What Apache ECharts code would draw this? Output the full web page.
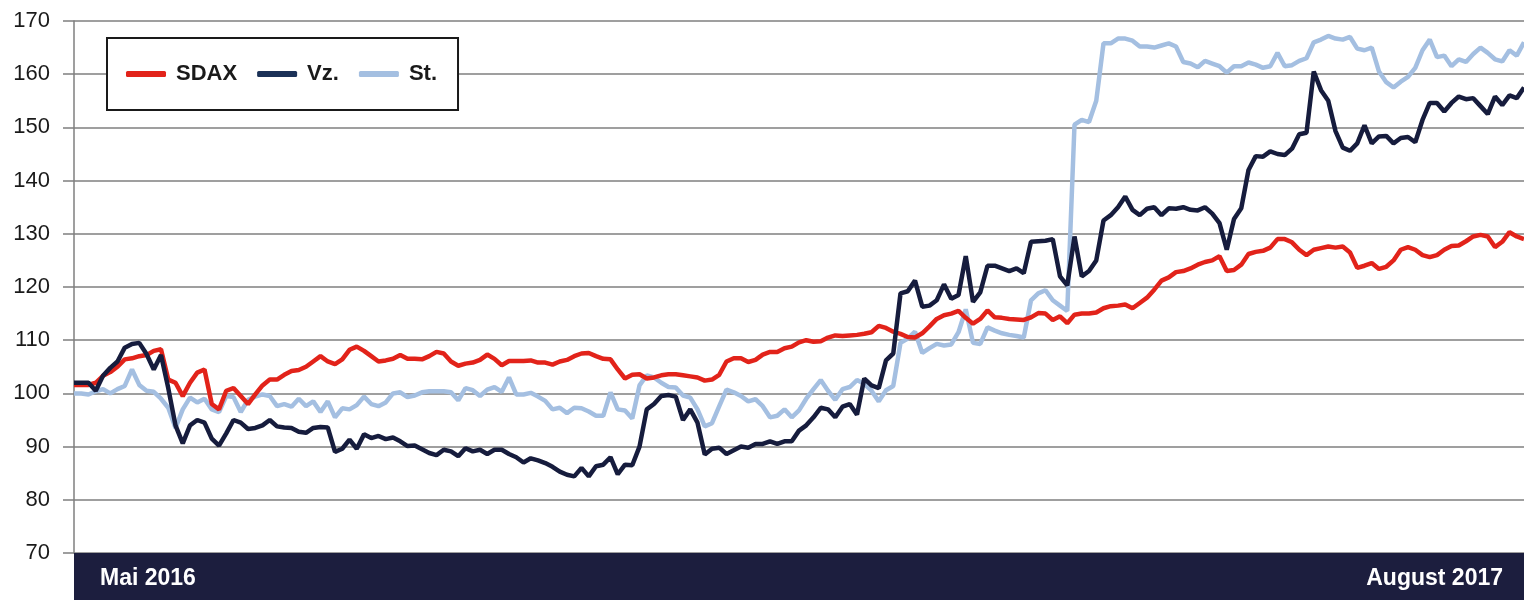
<!DOCTYPE html>
<html>
<head>
<meta charset="utf-8">
<script src="https://cdn.jsdelivr.net/npm/echarts@6/dist/echarts.min.js"></script>
<style>
html,body{margin:0;padding:0;background:#fff;}
#chart{width:1524px;height:600px;}
</style>
</head>
<body>
<div id="chart"></div>
<script>
var seriesNames = ['SDAX', 'Vz.', 'St.'];
var tickLabels = ['Mai 2016', 'August 2017'];
var yTicks = [70, 80, 90, 100, 110, 120, 130, 140, 150, 160, 170];

var sdax = [
101.6,101.6,101.6,102,103.3,104,105,106.4,106.6,107,
107.2,108,108.3,102.6,102,99.5,102,103.9,104.5,98,
97,100.5,101,99.5,98,99.8,101.5,102.6,102.6,103.5,
104.2,104.4,105,106,107,106,105.5,106.4,108.2,108.8,
108,107,106,106.2,106.5,107.2,106.5,106.5,106.4,107,
107.8,107.5,106,105.2,105.6,105.8,106.3,107.3,106.5,105.3,
106.1,106.1,106.1,106.2,105.8,105.8,105.4,106,106.3,107,
107.5,107.6,107,106.5,106.4,104.5,102.8,103.5,103.6,102.8,
103,103.4,103.6,103.6,103.4,103.2,103,102.4,102.6,103.5,
106,106.6,106.6,105.9,106.3,107.3,107.8,107.8,108.5,108.8,
109.6,110,109.7,109.8,110.5,110.9,110.8,110.9,111,111.2,
111.5,112.7,112.3,111.6,111.2,110.6,110.5,111.3,112.6,114,
114.7,115,115.5,114.2,113.1,114,115.6,114.3,114.2,114,
113.9,113.8,114.3,115.1,115,113.8,114.5,113.2,114.8,115,
115,115.2,116,116.4,116.5,116.7,116,117,118,119.5,
121.2,121.8,122.8,123,123.5,124.2,124.7,125,125.8,123,
123.2,124.2,126.2,126.6,126.8,127.4,129,129,128.4,127,
126,127,127.3,127.6,127.4,127.6,126.5,123.6,124,124.5,
123.4,123.8,125,127,127.5,127,126,125.6,126,127,
127.7,127.8,128.6,129.5,129.8,129.5,127.5,128.5,130.3,129.5,
129
];

var vz = [
102,102,102,100.5,103.3,104.8,106,108.6,109.3,109.5,
107.4,104.5,107.2,101,94,90.6,94,95,94.5,91.5,
90.2,92.5,95,94.5,93.3,93.5,94,95,93.8,93.6,
93.5,92.8,92.6,93.5,93.7,93.6,89,89.6,91.3,89.6,
92.3,91.6,92,91.4,91.7,91,90.1,90.2,89.5,88.8,
88.4,89.4,89.1,88.2,89.7,89.1,89.4,88.6,89.4,89.4,
88.6,88,87,87.8,87.4,86.9,86.2,85.3,84.7,84.4,
86,84.4,86.3,86.6,88,84.8,86.6,86.5,90,97,
98,99.5,99.7,99.4,95,97,94.5,88.5,89.6,89.8,
88.6,89.3,90,89.8,90.5,90.5,91,90.5,91,91,
93,94,95.5,97.3,97,95.5,97.5,98,96,102.8,
101.5,101,106.2,107.5,118.8,119.2,121.2,116.3,116.5,117.5,
120.5,117.8,118.5,125.8,117.2,119,124,124,123.5,123,
123.5,122.6,128.5,128.6,128.7,129,122,120.3,129.5,122,
123,125,132.5,133.5,135,137,134.5,133.5,134.7,135,
133.5,134.8,134.7,135,134.5,134.4,135,133.8,132,127,
132.8,134.8,142,144.6,144.5,145.5,145,144.8,146,148.7,
149,160.5,157,155,149.3,146.2,145.6,147,150.4,147,
148.3,148.4,147,148,148.2,147.2,151.4,154.6,154.6,153,
154.6,155.8,155.3,155.5,154,152.5,155.8,154.2,156,155.5,
157.5
];

var st = [
100,100,99.8,100.4,100.8,100,100.8,101.4,104.5,101.6,
100.5,100.3,99,97.3,93.5,97,99.2,98.3,99,97,
96.5,99.5,99.3,96.5,98.8,99.4,99.8,99.5,97.6,98,
97.5,99,97.6,98.5,96.5,98.5,95.5,97.2,97,97.8,
99.4,98,97.6,98.3,100,100.2,99.3,99.6,100.2,100.4,
100.4,100.4,100.2,98.7,101,100.6,99.5,100.7,101.2,100.3,
103,99.8,99.8,100.1,99.4,98.6,97,97.3,96.3,97.3,
97.2,96.6,95.8,95.8,100.2,97,96.8,95.3,101.5,103.4,
103,102,101.2,101.1,99.6,99.2,97,93.8,94.4,97.6,
100.7,100.2,99.5,98.5,98.9,97.6,95.5,95.8,97,95.5,
96.8,99,100.8,102.5,100.5,98.8,100.8,101.2,102.5,101.8,
100.5,98.5,100.6,101.4,109.5,110.3,111.6,107.6,108.5,109.3,
109,109.2,111.5,115.8,109.5,109.3,112.4,111.8,111.3,111,
110.8,110.5,117.5,118.8,119.4,117.5,116.5,115.5,150.5,151.4,
151,155,165.8,165.8,166.7,166.7,166.3,165.2,165.2,165,
165.4,165.8,165.2,162.3,162,161.3,162.5,162,161.5,160.3,
161.5,161.5,162.2,161.8,161.2,161.5,164,161.5,161.7,162.5,
163,166,166.5,167.2,166.7,166.5,167,164.8,164.5,165,
160.5,158.5,157.5,158.6,159.5,161.2,164.5,166.5,163.2,163.5,
161.5,162.8,162.3,163.8,165,164,162.8,162.4,164.5,163.5,
166
];

var categories = sdax.map(function (v, i) { return i; });
var lastIdx = categories.length - 1;

var chart = echarts.init(document.getElementById('chart'));
var font = "'Liberation Sans', Arial, sans-serif";
var gridColor = '#7f7f7f';

chart.setOption({
  animation: false,
  backgroundColor: '#ffffff',
  grid: { left: 74, right: 0, top: 21, bottom: 47, containLabel: false },
  graphic: [{
    type: 'rect',
    z: 1,
    shape: { x: 74, y: 553, width: 1450, height: 47 },
    style: { fill: '#1c1e3e' }
  }],
  legend: {
    left: 107,
    top: 38,
    data: seriesNames,
    icon: 'roundRect',
    itemWidth: 40,
    itemHeight: 6,
    itemGap: 20,
    borderColor: '#1a1a1a',
    borderWidth: 2,
    backgroundColor: '#ffffff',
    padding: [25, 21, 25, 19],
    textStyle: { fontFamily: font, fontSize: 22, fontWeight: 'bold', color: '#1a1a1a', padding: [0, 0, 0, 5] }
  },
  xAxis: {
    type: 'category',
    data: categories,
    boundaryGap: false,
    z: 10,
    axisLine: { show: false },
    axisTick: { show: false },
    splitLine: { show: false },
    axisLabel: {
      interval: function (idx) { return idx === 0 || idx === lastIdx; },
      alignMinLabel: 'left',
      alignMaxLabel: 'right',
      margin: 14,
      color: '#ffffff',
      fontFamily: font,
      fontSize: 23,
      fontWeight: 'bold',
      formatter: function (v, idx) {
        if (idx === 0) return '{l|' + tickLabels[0] + '}';
        if (idx === lastIdx) return '{r|' + tickLabels[1] + '}';
        return '';
      },
      rich: {
        l: { padding: [0, 0, 0, 26], color: '#ffffff', fontFamily: font, fontSize: 23, fontWeight: 'bold' },
        r: { padding: [0, 21, 0, 0], color: '#ffffff', fontFamily: font, fontSize: 23, fontWeight: 'bold' }
      }
    }
  },
  yAxis: {
    type: 'value',
    min: yTicks[0],
    max: yTicks[yTicks.length - 1],
    interval: 10,
    axisLine: { show: true, lineStyle: { color: gridColor, width: 1.5 } },
    axisTick: { show: true, length: 11, lineStyle: { color: gridColor, width: 1.5 } },
    splitLine: { show: true, lineStyle: { color: gridColor, width: 1.5 } },
    axisLabel: { margin: 24, color: '#1a1a1a', fontFamily: font, fontSize: 22 }
  },
  series: [
    { name: seriesNames[2], type: 'line', data: st, showSymbol: false, symbol: 'none',
      lineStyle: { color: '#a4bfe1', width: 4.5 }, itemStyle: { color: '#a4bfe1' }, z: 2 },
    { name: seriesNames[0], type: 'line', data: sdax, showSymbol: false, symbol: 'none',
      lineStyle: { color: '#e2231a', width: 4.5 }, itemStyle: { color: '#e2231a' }, z: 3 },
    { name: seriesNames[1], type: 'line', data: vz, showSymbol: false, symbol: 'none',
      lineStyle: { color: '#161c3d', width: 4.5 }, itemStyle: { color: '#1b3157' }, z: 4 }
  ]
});
</script>
</body>
</html>
